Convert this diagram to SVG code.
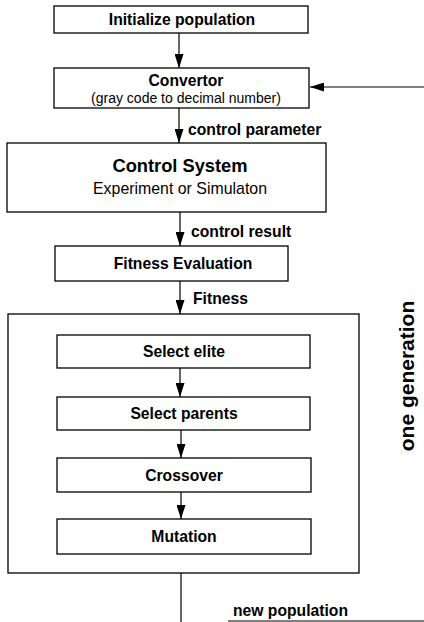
<svg xmlns="http://www.w3.org/2000/svg" width="424" height="622" viewBox="0 0 424 622">
<defs>
<marker id="ah" markerWidth="14" markerHeight="9" refX="14" refY="4.5" orient="auto" markerUnits="userSpaceOnUse">
<path d="M0,0 L14,4.5 L0,9 Z" fill="#000"/>
</marker>
</defs>
<style>
rect{fill:#fff;stroke:#000;stroke-width:1.3}
.c{stroke:#000;stroke-width:1.2;fill:none}
text{font-family:"Liberation Sans",Arial,sans-serif;fill:#000}
.b{font-weight:bold;font-size:15.7px;text-anchor:middle}
.lb{font-weight:bold;font-size:15.7px}
</style>
<rect x="0" y="0" width="424" height="622" style="stroke:none"/>
<g id="outer"><rect x="8" y="314" width="351" height="259"/></g>
<g id="init"><rect x="54" y="6" width="254" height="27"/><text class="b" x="182" y="25">Initialize population</text></g>
<g id="convertor"><rect x="54" y="68" width="255" height="40"/><text class="b" x="186" y="86">Convertor</text><text x="186" y="103" style="font-size:14px;text-anchor:middle">(gray code to decimal number)</text></g>
<g id="control"><rect x="7" y="143" width="319" height="69"/><text x="180" y="172" style="font-weight:bold;font-size:18.3px;text-anchor:middle">Control System</text><text x="180" y="194" style="font-size:15.9px;text-anchor:middle">Experiment or Simulaton</text></g>
<g id="fitness"><rect x="55" y="246" width="233" height="35"/><text class="b" x="183" y="269">Fitness Evaluation</text></g>
<g id="elite"><rect x="57" y="335" width="253" height="33"/><text class="b" x="184" y="357">Select elite</text></g>
<g id="parents"><rect x="57" y="397" width="253" height="33"/><text class="b" x="184" y="419">Select parents</text></g>
<g id="crossover"><rect x="57" y="458" width="254" height="34"/><text class="b" x="184" y="481">Crossover</text></g>
<g id="mutation"><rect x="57" y="519" width="254" height="35"/><text class="b" x="184" y="542">Mutation</text></g>
<g id="connectors">
<line class="c" x1="179" y1="33" x2="179" y2="68" marker-end="url(#ah)"/>
<line class="c" x1="424" y1="87" x2="310" y2="87" marker-end="url(#ah)"/>
<line class="c" x1="179" y1="108" x2="179" y2="143" marker-end="url(#ah)"/>
<line class="c" x1="180" y1="212" x2="180" y2="246" marker-end="url(#ah)"/>
<line class="c" x1="180" y1="281" x2="180" y2="314" marker-end="url(#ah)"/>
<line class="c" x1="180" y1="368" x2="180" y2="397" marker-end="url(#ah)"/>
<line class="c" x1="181" y1="430" x2="181" y2="458" marker-end="url(#ah)"/>
<line class="c" x1="181" y1="492" x2="181" y2="519" marker-end="url(#ah)"/>
<line class="c" x1="181" y1="573" x2="181" y2="622"/>
<line class="c" x1="228" y1="621" x2="424" y2="621"/>
</g>
<g id="labels">
<text class="lb" x="188" y="135">control parameter</text>
<text class="lb" x="191" y="237">control result</text>
<text class="lb" x="193" y="304">Fitness</text>
<text class="lb" x="233" y="616">new population</text>
<text x="414" y="376" transform="rotate(-90 414 376)" style="font-weight:bold;font-size:21px;text-anchor:middle">one generation</text>
</g>
</svg>
